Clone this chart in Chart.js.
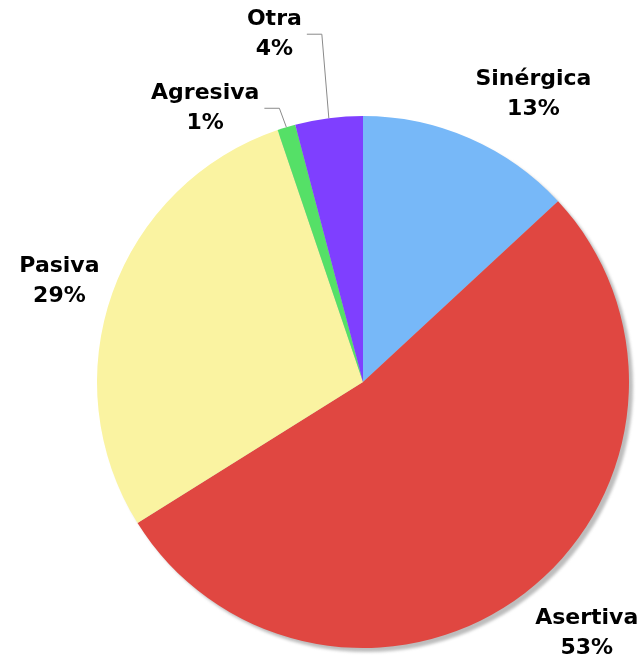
<!DOCTYPE html>
<html>
<head>
<meta charset="utf-8">
<script src="https://cdn.jsdelivr.net/npm/chart.js@4"></script>
<style>
  html, body { margin: 0; padding: 0; background: #fff; }
  #wrap { width: 644px; height: 662px; }
</style>
</head>
<body>
<div id="wrap"><canvas id="chart"></canvas></div>
<script>
const categories = ["Sinérgica", "Asertiva", "Pasiva", "Agresiva", "Otra"];
const shares = [13.1, 53.0, 28.7, 1.1, 4.1];
const colors = ["#77b8f8", "#e04741", "#faf3a1", "#55e067", "#7f3fff"];

// where each label sits, relative to the middle of its slice edge
const labelPlaces = [
  { dx: 64, dy: -44 },
  { dx: 62, dy: 40 },
  { dx: -53, dy: -11 },
  { dx: -7, dy: -19, leader: true },
  { dx: -7, dy: -84, leader: true },
];

const shadowPlugin = {
  id: "shadow",
  beforeDatasetsDraw(chart) {
    const arc = chart.getDatasetMeta(0).data[0];
    if (!arc) return;
    const ctx = chart.ctx;
    ctx.save();
    ctx.filter = "blur(1.5px)";
    ctx.fillStyle = "#bdbdbd";
    ctx.beginPath();
    ctx.arc(arc.x + 4, arc.y + 4, arc.outerRadius, 0, Math.PI * 2);
    ctx.fill();
    ctx.restore();
  },
};

const labelPlugin = {
  id: "sliceLabels",
  afterDatasetsDraw(chart) {
    const ctx = chart.ctx;
    const meta = chart.getDatasetMeta(0);
    const total = shares.reduce((a, b) => a + b, 0);
    ctx.save();
    ctx.font = "bold 22px 'DejaVu Sans', Verdana, sans-serif";
    ctx.fillStyle = "#000";
    ctx.textBaseline = "middle";
    ctx.textAlign = "center";
    meta.data.forEach((arc, i) => {
      const mid = (arc.startAngle + arc.endAngle) / 2;
      const ex = arc.x + Math.cos(mid) * arc.outerRadius;
      const ey = arc.y + Math.sin(mid) * arc.outerRadius;
      const p = labelPlaces[i];
      const lines = [categories[i], Math.round(shares[i] / total * 100) + "%"];
      let cx, cy;
      if (p.leader) {
        const kx = ex + p.dx, ky = ey + p.dy;
        ctx.strokeStyle = "#8a8a8a";
        ctx.lineWidth = 1;
        ctx.beginPath();
        ctx.moveTo(ex, ey);
        ctx.lineTo(kx, ky);
        ctx.lineTo(kx - 15, ky);
        ctx.stroke();
        const w = Math.max(...lines.map(t => ctx.measureText(t).width));
        cx = kx - 20 - w / 2;
        cy = ky;
      } else {
        cx = ex + p.dx;
        cy = ey + p.dy;
      }
      ctx.fillText(lines[0], cx, cy - 15);
      ctx.fillText(lines[1], cx, cy + 15);
    });
    ctx.restore();
  },
};

new Chart(document.getElementById("chart"), {
  type: "pie",
  data: {
    labels: categories,
    datasets: [{
      data: shares,
      backgroundColor: colors,
      borderWidth: 0,
    }],
  },
  options: {
    responsive: true,
    maintainAspectRatio: false,
    animation: false,
    layout: { padding: { left: 97, right: 15, top: 116, bottom: 14 } },
    plugins: {
      legend: { display: false },
      tooltip: { enabled: false },
    },
  },
  plugins: [shadowPlugin, labelPlugin],
});
</script>
</body>
</html>
